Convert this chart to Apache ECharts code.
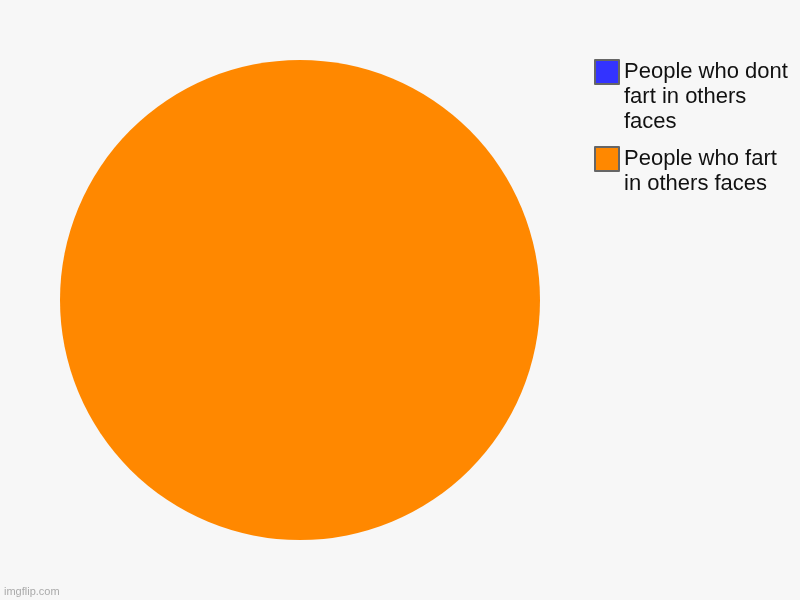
<!DOCTYPE html>
<html><head><meta charset="utf-8">
<script src="https://cdn.jsdelivr.net/npm/echarts@6/dist/echarts.min.js"></script>
<style>html,body{margin:0;padding:0;background:#f7f7f7}#c{width:800px;height:600px}</style>
</head><body><div id="c"></div>
<script>
const categories = ["People who dont fart in others faces", "People who fart in others faces"];
const legendLines = [["People who dont", "fart in others", "faces"], ["People who fart", "in others faces"]];
const values = [0, 100];
const colors = ["#3333ff", "#ff8800"];

const chart = echarts.init(document.getElementById('c'));
const legendTops = [9.5, 121.5];
chart.setOption({
  animation: false,
  backgroundColor: '#f7f7f7',
  color: colors,
  legend: categories.map((name, i) => ({
    data: [name],
    left: 594,
    top: legendTops[i],
    padding: 0,
    icon: 'rect',
    itemWidth: 24,
    itemHeight: 24,
    itemGap: 0,
    selectedMode: false,
    itemStyle: { borderColor: '#666666', borderWidth: 2 },
    formatter: () => '\n'.repeat(legendLines[i].length - 1) + legendLines[i].join('\n'),
    textStyle: { fontFamily: 'Liberation Sans, Arial, sans-serif', fontSize: 22, color: '#111', lineHeight: 25 }
  })),
  graphic: [{
    type: 'text', left: 4, top: 586,
    style: { text: 'imgflip.com', font: '11px Liberation Sans, Arial, sans-serif', fill: '#aaaaaa' }
  }],
  series: [{
    type: 'pie',
    center: [300, 300],
    radius: 240,
    startAngle: 90,
    label: { show: false },
    labelLine: { show: false },
    emphasis: { disabled: true },
    itemStyle: { borderWidth: 0 },
    data: categories.map((name, i) => ({ name, value: values[i] }))
  }]
});
</script></body></html>
